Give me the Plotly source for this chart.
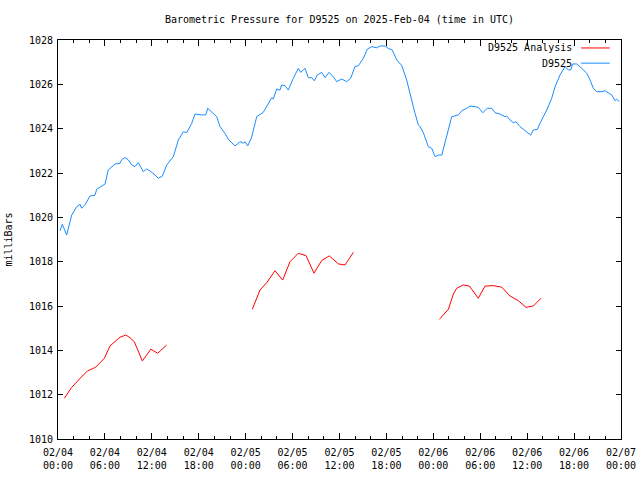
import plotly.graph_objects as go
import pandas as pd

START = pd.Timestamp("2025-02-04 00:00")

# D9525 observed pressure: hours since 2025-02-04 00:00 UTC, milliBars
obs_hours = [0.26, 0.55, 1.11, 1.75, 2.39, 2.81, 3.03, 3.45, 4.09, 4.73, 4.95, 5.59, 6.01, 6.43,
             7.29, 7.93, 8.15, 8.57, 8.99, 9.43, 9.85, 10.27, 10.91, 11.34, 11.77, 12.41, 12.83,
             13.34, 13.90, 14.75, 15.39, 16.03, 16.46, 17.10, 17.52, 18.38, 18.89, 19.15, 19.66,
             20.30, 20.72, 21.36, 21.78, 22.64, 23.28, 23.70, 23.92, 24.26, 24.77, 25.41, 26.26,
             26.90, 27.33, 27.54, 27.97, 28.39, 28.61, 29.03, 29.45, 30.09, 30.73, 31.04, 31.59,
             32.01, 32.45, 32.78, 33.16, 33.73, 34.15, 34.66, 35.21, 35.64, 36.28, 36.92, 37.43,
             37.98, 38.41, 39.05, 39.56, 40.12, 40.76, 41.18, 41.82, 42.24, 42.75, 43.32, 43.96,
             44.59, 45.02, 45.44, 45.66, 46.08, 46.30, 46.72, 47.36, 47.80, 48.22, 48.64, 49.08,
             49.50, 50.35, 51.20, 51.63, 52.27, 52.69, 53.33, 53.75, 54.32, 54.90, 55.47, 55.89,
             56.53, 57.17, 57.39, 57.81, 58.23, 58.58, 59.09, 59.73, 60.15, 60.46, 60.79, 61.30,
             61.64, 62.50, 63.14, 63.56, 64.20, 64.84, 65.26, 65.57, 65.82, 66.34, 66.98, 67.62,
             68.04, 68.46, 68.90, 69.53, 69.96, 70.38, 70.82, 71.24, 71.45, 71.79]
obs_values = [1019.39, 1019.69, 1019.20, 1020.10, 1020.48, 1020.59, 1020.41, 1020.56, 1020.96,
              1021.00, 1021.27, 1021.40, 1021.50, 1022.14, 1022.40, 1022.44, 1022.60, 1022.70,
              1022.59, 1022.36, 1022.29, 1022.47, 1022.06, 1022.18, 1022.09, 1021.91, 1021.76,
              1021.86, 1022.36, 1022.74, 1023.49, 1023.86, 1023.82, 1024.24, 1024.66, 1024.62,
              1024.62, 1024.92, 1024.77, 1024.54, 1024.09, 1023.79, 1023.52, 1023.22, 1023.41,
              1023.35, 1023.41, 1023.22, 1023.62, 1024.54, 1024.74, 1025.14, 1025.40, 1025.34,
              1025.79, 1025.74, 1025.97, 1025.94, 1025.74, 1026.27, 1026.72, 1026.54, 1026.72,
              1026.30, 1026.30, 1026.16, 1026.42, 1026.54, 1026.30, 1026.54, 1026.34, 1026.12,
              1026.24, 1026.12, 1026.27, 1026.80, 1026.84, 1027.17, 1027.59, 1027.70, 1027.65,
              1027.73, 1027.73, 1027.62, 1027.55, 1027.10, 1026.85, 1026.20, 1025.52, 1024.99,
              1024.69, 1024.17, 1024.09, 1023.82, 1023.19, 1023.11, 1022.74, 1022.81, 1022.81,
              1023.34, 1024.54, 1024.62, 1024.81, 1024.92, 1025.02, 1024.99, 1024.96, 1024.72,
              1024.92, 1024.92, 1024.72, 1024.66, 1024.54, 1024.57, 1024.39, 1024.27, 1024.31,
              1024.09, 1023.91, 1023.76, 1023.71, 1023.94, 1023.97, 1024.24, 1024.84, 1025.37,
              1025.89, 1026.42, 1026.80, 1026.65, 1026.65, 1026.92, 1026.92, 1026.72, 1026.50,
              1026.20, 1025.82, 1025.67, 1025.67, 1025.71, 1025.60, 1025.52, 1025.26, 1025.33,
              1025.22]

# D9525 Analysis: three separate runs
ana1_hours = [0.81, 1.75, 3.24, 3.79, 4.82, 5.93, 6.65, 7.29, 7.93, 8.66, 9.21, 9.76, 10.79,
              11.34, 11.86, 12.75, 13.90]
ana1_values = [1011.84, 1012.33, 1012.89, 1013.07, 1013.24, 1013.64, 1014.20, 1014.39, 1014.59,
               1014.69, 1014.57, 1014.39, 1013.52, 1013.79, 1014.05, 1013.87, 1014.24]
ana2_hours = [24.85, 25.32, 25.83, 26.69, 27.75, 28.73, 29.67, 30.73, 31.72, 32.74, 33.72, 34.70,
              35.85, 36.70, 37.77]
ana2_values = [1015.85, 1016.30, 1016.72, 1017.05, 1017.59, 1017.17, 1018.00, 1018.38, 1018.27,
               1017.48, 1018.05, 1018.26, 1017.90, 1017.85, 1018.42]
ana3_hours = [48.77, 49.92, 50.56, 50.99, 51.84, 52.60, 53.75, 54.61, 55.67, 56.75, 57.81, 58.87,
              59.85, 60.79, 61.77]
ana3_values = [1015.40, 1015.85, 1016.54, 1016.80, 1016.95, 1016.90, 1016.35, 1016.90, 1016.92,
               1016.85, 1016.45, 1016.24, 1015.94, 1016.00, 1016.35]

legend_labels = ["D9525 Analysis", "D9525"]
RED = "#ff0000"
BLUE = "#1a8cff"


def to_time(hours):
    return [START + pd.Timedelta(hours=h) for h in hours]


ana_x = to_time(ana1_hours) + [None] + to_time(ana2_hours) + [None] + to_time(ana3_hours)
ana_y = ana1_values + [None] + ana2_values + [None] + ana3_values

FONT = "DejaVu Sans Mono"

fig = go.Figure()
fig.add_trace(go.Scatter(x=ana_x, y=ana_y, mode="lines", name=legend_labels[0],
                         line=dict(color=RED, width=1), connectgaps=False))
fig.add_trace(go.Scatter(x=to_time(obs_hours), y=obs_values, mode="lines", name=legend_labels[1],
                         line=dict(color=BLUE, width=1)))

# gnuplot-style key: text then sample line
rows = [(legend_labels[0], RED, 0.980), (legend_labels[1], BLUE, 0.942)]
for label, color, yy in rows:
    fig.add_annotation(x=0.9165, y=yy, xref="paper", yref="paper", text=label, showarrow=False,
                       xanchor="right", yanchor="middle", font=dict(family=FONT, size=10, color="black"))
    fig.add_shape(type="line", xref="paper", yref="paper", x0=0.929, x1=0.980, y0=yy, y1=yy,
                  line=dict(color=color, width=1))

fig.update_layout(
    width=640, height=480,
    margin=dict(l=58, r=19, t=40, b=41, autoexpand=False),
    paper_bgcolor="white", plot_bgcolor="white",
    showlegend=False,
    font=dict(family=FONT, size=10, color="black"),
    title=dict(text="Barometric Pressure for D9525 on 2025-Feb-04 (time in UTC)",
               x=(58 + 621) / 2 / 640, xanchor="center", y=1 - 19 / 480, yanchor="middle",
               font=dict(family=FONT, size=10, color="black")),
)
fig.update_xaxes(
    automargin=False,
    range=[START, START + pd.Timedelta(hours=72)],
    tickmode="linear", tick0=START, dtick=6 * 3600 * 1000,
    tickformat="%m/%d<br>%H:%M",
    ticks="inside", ticklen=6, tickcolor="black", tickwidth=1,
    ticklabelstandoff=4,
    minor=dict(ticks="inside", ticklen=3, dtick=2 * 3600 * 1000, tickcolor="black", showgrid=False),
    showline=True, linecolor="black", linewidth=1, mirror="ticks",
    showgrid=False, zeroline=False,
    tickfont=dict(family=FONT, size=10, color="black"),
)
fig.update_yaxes(
    automargin=False,
    range=[1010, 1028], tickmode="linear", tick0=1010, dtick=2,
    ticks="inside", ticklen=5, tickcolor="black", tickwidth=1,
    ticklabelstandoff=2,
    showline=True, linecolor="black", linewidth=1, mirror="ticks",
    showgrid=False, zeroline=False,
    tickfont=dict(family=FONT, size=10, color="black"),
    title=dict(text="milliBars", standoff=14, font=dict(family=FONT, size=10, color="black")),
)

fig.write_html("out.html")
